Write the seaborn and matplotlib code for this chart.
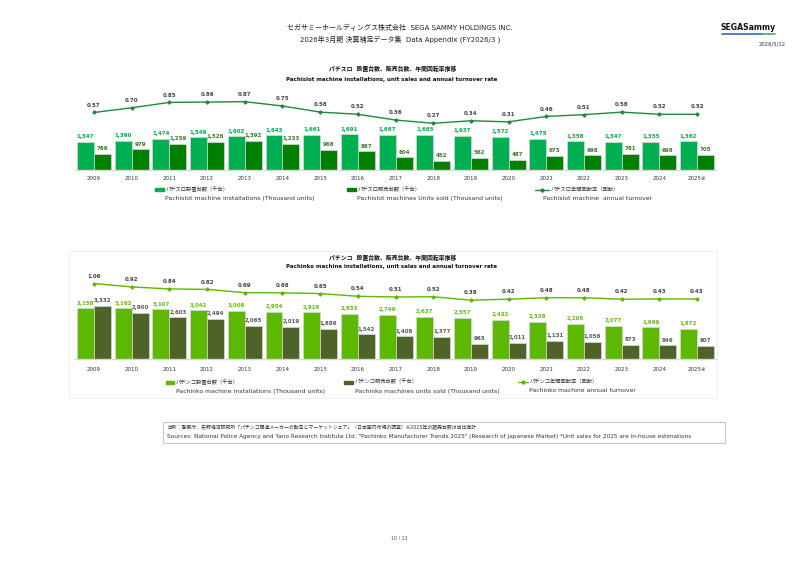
import numpy as np
import pandas as pd
import matplotlib
matplotlib.use("Agg")
import matplotlib.pyplot as plt
from matplotlib.patches import Rectangle
from matplotlib.lines import Line2D
import seaborn as sns

# ---------------- data ----------------
years = ["2009", "2010", "2011", "2012", "2013", "2014", "2015", "2016", "2017",
         "2018", "2019", "2020", "2021", "2022", "2023", "2024", "2025※"]

pachislot_installations = [1347, 1390, 1474, 1549, 1602, 1643, 1661, 1691, 1687,
                           1665, 1637, 1572, 1475, 1358, 1347, 1355, 1362]
pachislot_sold = [766, 979, 1259, 1326, 1392, 1233, 968, 887, 604,
                  452, 562, 487, 673, 698, 781, 698, 705]
pachislot_turnover = [0.57, 0.70, 0.85, 0.86, 0.87, 0.75, 0.58, 0.52, 0.36,
                      0.27, 0.34, 0.31, 0.46, 0.51, 0.58, 0.52, 0.52]

pachinko_installations = [3158, 3163, 3107, 3042, 3009, 2954, 2918, 2833, 2749,
                          2637, 2557, 2432, 2338, 2205, 2077, 1969, 1872]
pachinko_sold = [3332, 2900, 2603, 2494, 2065, 2019, 1886, 1542, 1408,
                 1377, 963, 1011, 1131, 1056, 873, 846, 807]
pachinko_turnover = [1.06, 0.92, 0.84, 0.82, 0.69, 0.68, 0.65, 0.54, 0.51,
                     0.52, 0.38, 0.42, 0.48, 0.48, 0.42, 0.43, 0.43]

slot_legend_jp = ["パチスロ設置台数（千台）", "パチスロ販売台数（千台）", "パチスロ年間回転率（回転）"]
slot_legend_en = ["Pachislot machine installations (Thousand units)",
                  "Pachislot machines Units sold (Thousand units)",
                  "Pachislot machine  annual turnover"]
pachi_legend_jp = ["パチンコ設置台数（千台）", "パチンコ販売台数（千台）", "パチンコ年間回転率（回転）"]
pachi_legend_en = ["Pachinko machine installations (Thousand units)",
                   "Pachinko machines units sold (Thousand units)",
                   "Pachinko machine annual turnover"]

# ---------------- style ----------------
sns.set_theme(style="white")
plt.rcParams["font.family"] = ["DejaVu Sans", "Noto Sans CJK JP"]

W, H = 800, 565
fig = plt.figure(figsize=(8.0, 5.65), dpi=100)
fig.patch.set_facecolor("white")


def fx(px):
    return px / W


def fy(py):
    return 1 - py / H


def rect(l, t, r, b):
    return [fx(l), fy(b), fx(r) - fx(l), fy(t) - fy(b)]


def draw_chart(inst, sold, rate, c_inst, c_sold, c_line, lab_inst, lab_sold,
               top, base, bar_ymax, line_ylim, tick_pad):
    df = pd.DataFrame({
        "year": years * 2,
        "value": inst + sold,
        "series": ["inst"] * len(years) + ["sold"] * len(years),
    })
    ax = fig.add_axes(rect(75.2, top, 715.9, base))
    sns.barplot(data=df, x="year", y="value", hue="series", order=years,
                palette=[c_inst, c_sold], width=0.9, saturation=1, ax=ax,
                legend=False, edgecolor="#d8d8d8", linewidth=0.5)
    ax.set_xlim(-0.5, len(years) - 0.5)
    ax.set_ylim(0, bar_ymax)
    ax.set_xlabel("")
    ax.set_ylabel("")
    ax.set_yticks([])
    for s in ["left", "right", "top"]:
        ax.spines[s].set_visible(False)
    ax.spines["bottom"].set_color("#d9d9d9")
    ax.spines["bottom"].set_linewidth(1.0)
    ax.tick_params(axis="x", length=0, pad=tick_pad, labelsize=4, colors="#333333")
    ax.set_facecolor("none")
    for cont, col in zip(ax.containers, [lab_inst, lab_sold]):
        ax.bar_label(cont, labels=[f"{v:,.0f}" for v in cont.datavalues],
                     padding=2, fontsize=4, fontweight="bold", color=col)

    ax2 = fig.add_axes(rect(75.2, top, 715.9, base))
    sns.pointplot(x=years, y=rate, order=years, ax=ax2, color=c_line,
                  markers="D", markersize=1.8, linewidth=1.0)
    ax2.set_xlim(-0.5, len(years) - 0.5)
    ax2.set_ylim(*line_ylim)
    ax2.axis("off")
    for i, v in enumerate(rate):
        ax2.annotate(f"{v:.2f}", (i, v), xytext=(0, 3.5), textcoords="offset points",
                     ha="center", va="bottom", fontsize=4, fontweight="bold",
                     color="#404040")
    return ax


def legend_row(specs, jp_labels, en_labels, colors, y_jp, y_en, en_x):
    for i, ((x0, x1, xt), jp, en) in enumerate(zip(specs, jp_labels, en_labels)):
        if i < 2:
            fig.add_artist(Rectangle((fx(x0), fy(y_jp + 1.5)), fx(x1) - fx(x0),
                                     fy(y_jp - 1.5) - fy(y_jp + 1.5),
                                     color=colors[i], transform=fig.transFigure))
        else:
            fig.add_artist(Line2D([fx(x0), fx(x1)], [fy(y_jp), fy(y_jp)], color=colors[2],
                                  lw=1, transform=fig.transFigure))
            fig.add_artist(Line2D([fx((x0 + x1) / 2)], [fy(y_jp)], color=colors[2], lw=0,
                                  marker="D", markersize=1.8, transform=fig.transFigure))
        fig.text(fx(xt), fy(y_jp), jp, ha="left", va="center", fontsize=3.8, color="#333333")
        fig.text(fx(en_x[i]), fy(y_en), en, ha="left", va="center", fontsize=4.4,
                 color="#333333")


# ---------------- header ----------------
fig.text(fx(400), fy(27), "セガサミーホールディングス株式会社  SEGA SAMMY HOLDINGS INC.",
         ha="center", va="center", fontsize=5, color="#222222")
fig.text(fx(400), fy(39), "2026年3月期 決算補足データ集  Data Appendix (FY2026/3 )",
         ha="center", va="center", fontsize=5, color="#222222")
fig.text(fx(748), fy(28), "SEGASammy", ha="center", va="center", fontsize=5.6,
         fontweight="heavy", color="#111111")
fig.add_artist(Line2D([fx(722), fx(762)], [fy(33.5), fy(33.5)], color="#1a5fb4",
                      lw=1.1, transform=fig.transFigure))
fig.add_artist(Line2D([fx(762), fx(775)], [fy(33.5), fy(33.5)], color="#2eaa4a",
                      lw=1.1, transform=fig.transFigure))
fig.text(fx(772), fy(44), "2026/5/12", ha="center", va="center", fontsize=3.8,
         color="#333333")

# ---------------- top chart (pachislot) ----------------
fig.text(fx(393), fy(69), "パチスロ  設置台数、販売台数、年間回転率推移", ha="center",
         va="center", fontsize=4.2, fontweight="bold", color="#111111")
fig.text(fx(392), fy(79.5), "Pachislot machine installations, unit sales and annual turnover rate",
         ha="center", va="center", fontsize=4.0, fontweight="bold", color="#111111")

draw_chart(pachislot_installations, pachislot_sold, pachislot_turnover,
           "#00b050", "#008000", "#1f8a3c", "#00b050", "#3c7a28",
           top=90, base=170, bar_ymax=80 / 0.021, line_ylim=(-37 / 36, 43 / 36),
           tick_pad=4.5)

legend_row([(155, 164, 166), (347, 356, 358), (535, 549, 551)],
           slot_legend_jp, slot_legend_en, ["#00b050", "#008000", "#1f8a3c"],
           189.5, 198.5, [165, 357, 543])

# ---------------- bottom chart (pachinko) ----------------
fig.add_artist(Rectangle((fx(69), fy(398)), fx(717) - fx(69), fy(251) - fy(398),
                         fill=False, edgecolor="#f0f0f0", lw=0.8, transform=fig.transFigure))
fig.text(fx(393), fy(257.5), "パチンコ  設置台数、販売台数、年間回転率推移", ha="center",
         va="center", fontsize=4.2, fontweight="bold", color="#111111")
fig.text(fx(392), fy(266.5), "Pachinko machine installations, unit sales and annual turnover rate",
         ha="center", va="center", fontsize=4.0, fontweight="bold", color="#111111")

draw_chart(pachinko_installations, pachinko_sold, pachinko_turnover,
           "#5cb800", "#4f6228", "#5cb800", "#66bb11", "#595959",
           top=275, base=359, bar_ymax=84 / 0.016, line_ylim=(-49.5 / 24.5, 34.5 / 24.5),
           tick_pad=6)

legend_row([(166, 174, 176), (344, 353, 355), (518, 528, 530)],
           pachi_legend_jp, pachi_legend_en, ["#5cb800", "#4f6228", "#5cb800"],
           382, 391, [176, 355, 529])

# ---------------- footer ----------------
fig.add_artist(Rectangle((fx(163), fy(443)), fx(725) - fx(163), fy(422) - fy(443),
                         fill=False, edgecolor="#c8c8c8", lw=0.8, transform=fig.transFigure))
fig.text(fx(167), fy(427.5),
         "出所：警察庁、矢野経済研究所「パチンコ関連メーカーの動向とマーケットシェア」（日本国内市場の調査）※2025年の販売台数は当社推計",
         ha="left", va="center", fontsize=3.5, color="#333333")
fig.text(fx(167), fy(436.5),
         "Sources: National Police Agency and Yano Research Institute Ltd. \"Pachinko Manufacturer Trends 2025\" (Research of Japanese Market) *Unit sales for 2025 are in-house estimations",
         ha="left", va="center", fontsize=4.15, color="#333333")
fig.text(fx(399), fy(538), "10 / 13", ha="center", va="center", fontsize=3.4, color="#555555")

fig.savefig("out.png", dpi=100, facecolor="white")
